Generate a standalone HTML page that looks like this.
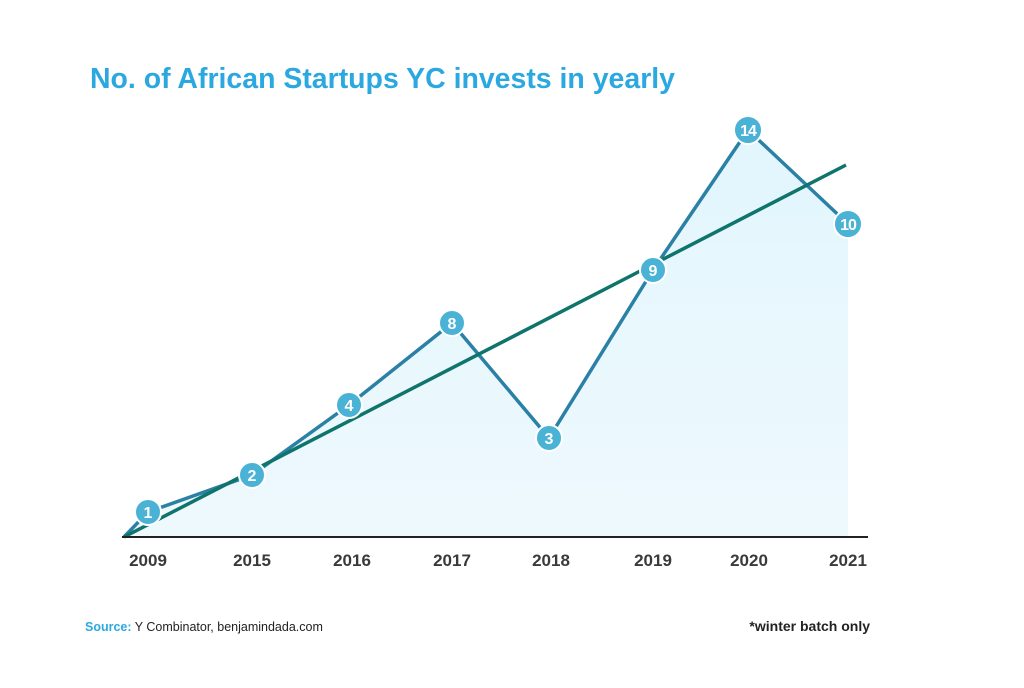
<!DOCTYPE html>
<html><head><style>body{margin:0;background:#fff}</style></head><body>
<svg width="1024" height="683" xmlns="http://www.w3.org/2000/svg" font-family="Liberation Sans, sans-serif">
<defs><linearGradient id="g" x1="0" y1="0" x2="0" y2="1"><stop offset="0" stop-color="#e2f6fd"/><stop offset="1" stop-color="#eef9fd"/></linearGradient></defs>
<text x="90" y="88" font-size="28.5" font-weight="bold" fill="#2ca8e0" textLength="585" lengthAdjust="spacingAndGlyphs">No. of African Startups YC invests in yearly</text>
<polygon points="124,537 148,512 252,475 349,405 452,323 549,438 653,270 748,130 848,224 848,537" fill="url(#g)"/>
<polyline points="124,537 148,512 252,475 349,405 452,323 549,438 653,270 748,130 848,224" fill="none" stroke="#2b80a6" stroke-width="3.5" stroke-linejoin="round"/>
<line x1="124" y1="537" x2="846" y2="165" stroke="#0f746c" stroke-width="3.5"/>
<line x1="122" y1="537" x2="868" y2="537" stroke="#222" stroke-width="2"/>
<g fill="#49b2d5" stroke="#fff" stroke-width="2">
<circle cx="148" cy="512" r="13"/><circle cx="252" cy="475" r="13"/><circle cx="349" cy="405" r="13"/><circle cx="452" cy="323" r="13"/><circle cx="549" cy="438" r="13"/><circle cx="653" cy="270" r="13"/><circle cx="748" cy="130" r="14"/><circle cx="848" cy="224" r="14"/>
</g>
<g fill="#fff" font-size="16" font-weight="bold" text-anchor="middle">
<text x="148" y="518">1</text><text x="252" y="481">2</text><text x="349" y="411">4</text><text x="452" y="329">8</text><text x="549" y="444">3</text><text x="653" y="276">9</text><text x="748" y="136" letter-spacing="-1">14</text><text x="848" y="230" letter-spacing="-1">10</text>
</g>
<g fill="#3a3a3a" font-size="17" font-weight="bold" text-anchor="middle">
<text x="148" y="566">2009</text><text x="252" y="566">2015</text><text x="352" y="566">2016</text><text x="452" y="566">2017</text><text x="551" y="566">2018</text><text x="653" y="566">2019</text><text x="749" y="566">2020</text><text x="848" y="566">2021</text>
</g>
<text x="85" y="631" font-size="12.5"><tspan fill="#2ca8e0" font-weight="bold">Source:</tspan><tspan fill="#222"> Y Combinator, benjamindada.com</tspan></text>
<text x="870" y="631" font-size="14" font-weight="bold" fill="#222" text-anchor="end">*winter batch only</text>
</svg>
</body></html>
